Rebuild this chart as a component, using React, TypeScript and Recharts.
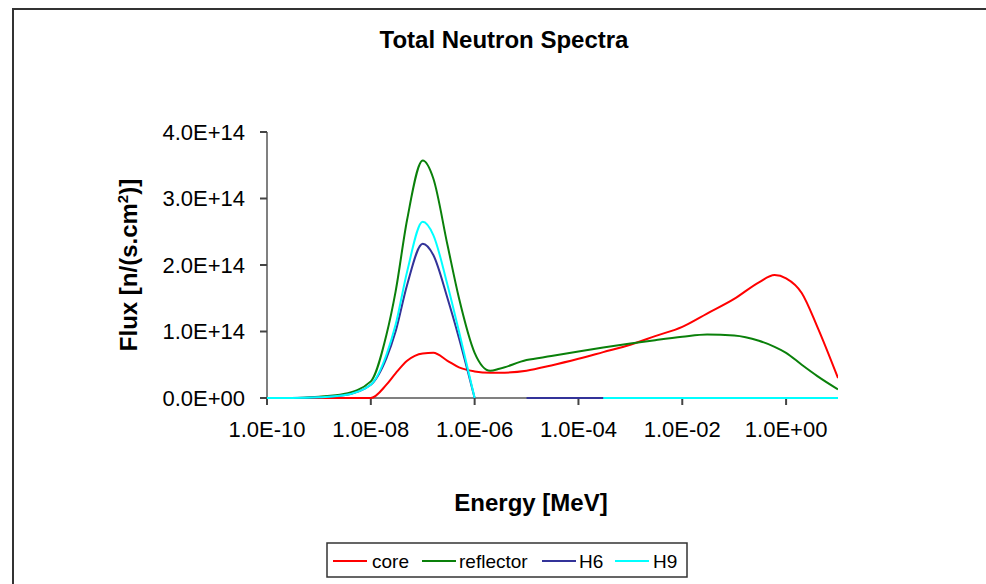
import { LineChart, Line, XAxis, YAxis } from "recharts";

// energy grid in MeV
const energies = [
  1e-10, 3e-10, 1e-9, 3e-9, 1e-8, 2e-8, 3e-8, 5e-8, 1e-7, 1.6e-7, 3e-7, 5e-7, 1e-6, 2e-6, 3e-6,
  1e-5, 3e-5, 1e-4, 3e-4, 1e-3, 3e-3, 1e-2, 3e-2, 1e-1, 3e-1, 6e-1, 1, 2, 4, 10,
];

// flux values, n/(s.cm2)
const core = [
  0, 0, 0, 0, 0, 0.2e14, 0.37e14, 0.56e14, 0.67e14, 0.68e14, 0.56e14, 0.46e14, 0.4e14, 0.38e14, 0.38e14,
  0.41e14, 0.49e14, 0.59e14, 0.69e14, 0.8e14, 0.93e14, 1.07e14, 1.27e14, 1.49e14, 1.74e14, 1.85e14, 1.8e14, 1.58e14, 1.07e14, 0.3e14,
];
const reflector = [
  0, 0, 0.02e14, 0.06e14, 0.25e14, 0.95e14, 1.6e14, 2.68e14, 3.57e14, 3.3e14, 2.3e14, 1.5e14, 0.68e14, 0.41e14, 0.44e14,
  0.57e14, 0.63e14, 0.7e14, 0.76e14, 0.82e14, 0.87e14, 0.92e14, 0.955e14, 0.94e14, 0.86e14, 0.77e14, 0.68e14, 0.5e14, 0.33e14, 0.13e14,
];
const h6 = [
  0, 0, 0.01e14, 0.04e14, 0.2e14, 0.6e14, 1.0e14, 1.7e14, 2.32e14, 2.15e14, 1.5e14, 0.9e14, 0, null, null,
  0, 0, 0, 0, 0, 0, 0, 0, 0, 0, 0, 0, 0, 0, 0,
];
const h9 = [
  0, 0, 0.01e14, 0.04e14, 0.2e14, 0.65e14, 1.1e14, 1.9e14, 2.65e14, 2.45e14, 1.7e14, 1.0e14, 0, null, null,
  null, null, null, 0, 0, 0, 0, 0, 0, 0, 0, 0, 0, 0, 0,
];

const xTicks = [1e-10, 1e-8, 1e-6, 1e-4, 1e-2, 1];
const yTicks = [0, 1e14, 2e14, 3e14, 4e14];

const series = [
  { key: "core", name: "core", color: "#ff0000", lx: 333, tx: 372 },
  { key: "reflector", name: "reflector", color: "#0a800a", lx: 422, tx: 459 },
  { key: "h6", name: "H6", color: "#333399", lx: 542, tx: 579 },
  { key: "h9", name: "H9", color: "#00ffff", lx: 615, tx: 653 },
];

const rows = energies.map((e, i) => ({
  energy: e,
  core: core[i],
  reflector: reflector[i],
  h6: h6[i],
  h9: h9[i],
}));

const sci = (v: number) => {
  const [m, ex] = v.toExponential(1).split("e");
  const n = Number(ex);
  return `${m}E${n < 0 ? "-" : "+"}${String(Math.abs(n)).padStart(2, "0")}`;
};

const FONT = "'Liberation Sans', Arial, sans-serif";

export default function App() {
  return (
    <div style={{ position: "absolute", left: 0, top: 0, width: 986, height: 584, overflow: "hidden", background: "#fff", fontFamily: FONT }}>
      <div style={{ position: "absolute", left: 12, top: 8, width: 1000, height: 600, border: "2px solid #333" }} />
      <div style={{ position: "absolute", left: 0, top: 0 }}>
        <LineChart width={986} height={584} data={rows} margin={{ top: 132, right: 148, bottom: 146, left: 157 }}>
          <XAxis
            dataKey="energy"
            type="number"
            scale="log"
            domain={[1e-10, 10]}
            ticks={xTicks}
            tickFormatter={sci}
            allowDataOverflow
            height={40}
            tickSize={7}
            tickMargin={16}
            axisLine={{ stroke: "#808080", strokeWidth: 2 }}
            tickLine={{ stroke: "#444", strokeWidth: 2 }}
            tick={{ fill: "#000", fontSize: 22, fontFamily: FONT }}
            zIndex={0}
          />
          <YAxis
            type="number"
            domain={[0, 4e14]}
            ticks={yTicks}
            tickFormatter={sci}
            width={110}
            tickSize={7}
            tickMargin={15}
            axisLine={{ stroke: "#808080", strokeWidth: 2 }}
            tickLine={{ stroke: "#444", strokeWidth: 2 }}
            tick={{ fill: "#000", fontSize: 22, fontFamily: FONT }}
            zIndex={0}
          />
          {series.map((s) => (
            <Line
              key={s.key}
              dataKey={s.key}
              name={s.name}
              type="monotone"
              stroke={s.color}
              strokeWidth={2}
              dot={false}
              activeDot={false}
              connectNulls={false}
              isAnimationActive={false}
              zIndex={600}
            />
          ))}
        </LineChart>
      </div>
      <svg width={986} height={584} style={{ position: "absolute", left: 0, top: 0, pointerEvents: "none" }} fontFamily={FONT}>
        <text x={504} y={48} textAnchor="middle" fontSize={24} fontWeight="bold" fill="#000">
          Total Neutron Spectra
        </text>
        <text x={531} y={511} textAnchor="middle" fontSize={24} fontWeight="bold" fill="#000">
          Energy [MeV]
        </text>
        <text x={137} y={265} transform="rotate(-90 137 265)" textAnchor="middle" fontSize={24} fontWeight="bold" fill="#000">
          Flux [n/(s.cm<tspan dy={-9} fontSize={15}>2</tspan><tspan dy={9}>)]</tspan>
        </text>
        <rect x={327} y={543} width={360} height={34} fill="#fff" stroke="#333" strokeWidth={1.5} />
        {series.map((s) => (
          <g key={s.key}>
            <line x1={s.lx} x2={s.lx + 34} y1={561} y2={561} stroke={s.color} strokeWidth={2} />
            <text x={s.tx} y={568} fontSize={19} fill="#000">
              {s.name}
            </text>
          </g>
        ))}
      </svg>
    </div>
  );
}
